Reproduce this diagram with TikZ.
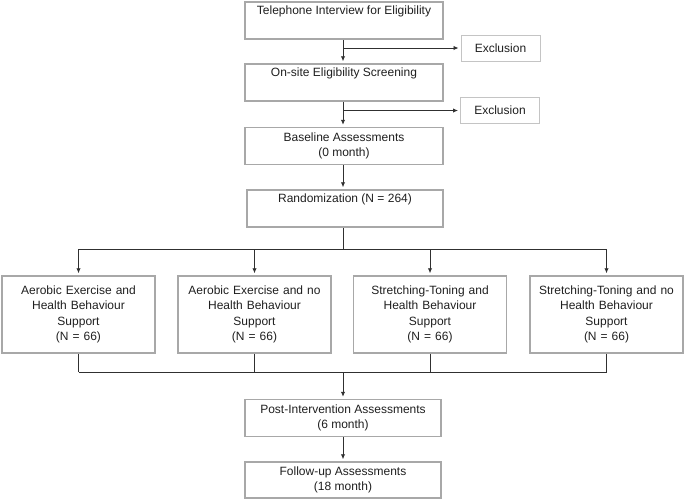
\documentclass[tikz,border=0pt]{standalone}
\usepackage{fontspec}
\setmainfont{Liberation Sans}
\usetikzlibrary{arrows.meta}
\definecolor{boxgray}{HTML}{A8A8A8}
\definecolor{excgray}{HTML}{C4C4C4}
\definecolor{linegray}{HTML}{303030}
\begin{document}
\begin{tikzpicture}[x=1pt,y=-1pt,
  every node/.style={font=\fontsize{12}{15.5}\selectfont, text=black!88},
  stagebox/.style={draw=boxgray, line width=1.5pt, minimum width=198pt, minimum height=37pt, inner sep=3pt, align=center},
  excbox/.style={draw=excgray, line width=1pt, minimum width=79pt, minimum height=26pt, inner sep=2pt, align=center},
  groupbox/.style={draw=boxgray, line width=1.5pt, minimum width=153pt, minimum height=77pt, text width=150pt, inner xsep=1.5pt, inner ysep=3pt, align=center},
  conn/.style={draw=linegray, line width=0.9pt},
  arrowc/.style={conn, -{Latex[length=5pt,width=4.5pt]}, shorten >=2pt}
]
\useasboundingbox (0,0) rectangle (685,501);

\node[stagebox] (b1) at (344,20.5) {Telephone Interview for Eligibility\\ \strut};
\node[excbox] (e1) at (500.5,48) {Exclusion};
\node[stagebox] (b2) at (344,82.5) {On-site Eligibility Screening\\ \strut};
\node[excbox] (e2) at (500,110.5) {Exclusion};
\node[stagebox] (b3) at (344,146) {Baseline Assessments\\(0 month)};
\node[stagebox, minimum width=196pt] (b4) at (345,208.5) {Randomization (N = 264)\\ \strut};

\node[groupbox] (gA) at (78.5,314.5) {Aerobic Exercise and\\Health Behaviour\\Support\\(N = 66)};
\node[groupbox] (gB) at (254.5,314.5) {Aerobic Exercise and no\\Health Behaviour\\Support\\(N = 66)};
\node[groupbox] (gC) at (430,314.5) {Stretching-Toning and\\Health Behaviour\\Support\\(N = 66)};
\node[groupbox] (gD) at (606.5,314.5) {Stretching-Toning and no\\Health Behaviour\\Support\\(N = 66)};
\foreach \g in {gA,gB,gC,gD}{
  \draw[boxgray, line width=2.5pt] ([yshift=-0.5pt]\g.north west) -- ([yshift=-0.5pt]\g.north east);
}

\node[stagebox, minimum width=196pt] (b5) at (343,418) {Post-Intervention Assessments\\(6 month)};
\node[stagebox, minimum width=196pt, minimum height=36pt] (b6) at (343,480) {Follow-up Assessments\\(18 month)};

% top chain
\draw[arrowc] (b1.south -| 343,0) -- (b2.north -| 343,0);
\draw[arrowc] (343,48) -- (e1.west);
\draw[arrowc] (b2.south -| 343,0) -- (b3.north -| 343,0);
\draw[arrowc] (343,110.5) -- (e2.west);
\draw[arrowc] (b3.south -| 343,0) -- (b4.north -| 343,0);

% split
\coordinate (split) at (343,249);
\draw[conn] (b4.south -| split) -- (split);
\draw[conn] (gA.north |- split) -- (gD.north |- split);
\foreach \g in {gA,gB,gC,gD}{
  \draw[arrowc] (\g.north |- split) -- (\g.north);
}

% merge
\coordinate (merge) at (343,372);
\foreach \g in {gA,gB,gC,gD}{
  \draw[conn] (\g.south) -- (\g.south |- merge);
}
\draw[conn] (gA.south |- merge) -- (gD.south |- merge);
\draw[arrowc] (merge) -- (b5.north -| merge);
\draw[arrowc] (b5.south -| merge) -- (b6.north -| merge);
\end{tikzpicture}
\end{document}
